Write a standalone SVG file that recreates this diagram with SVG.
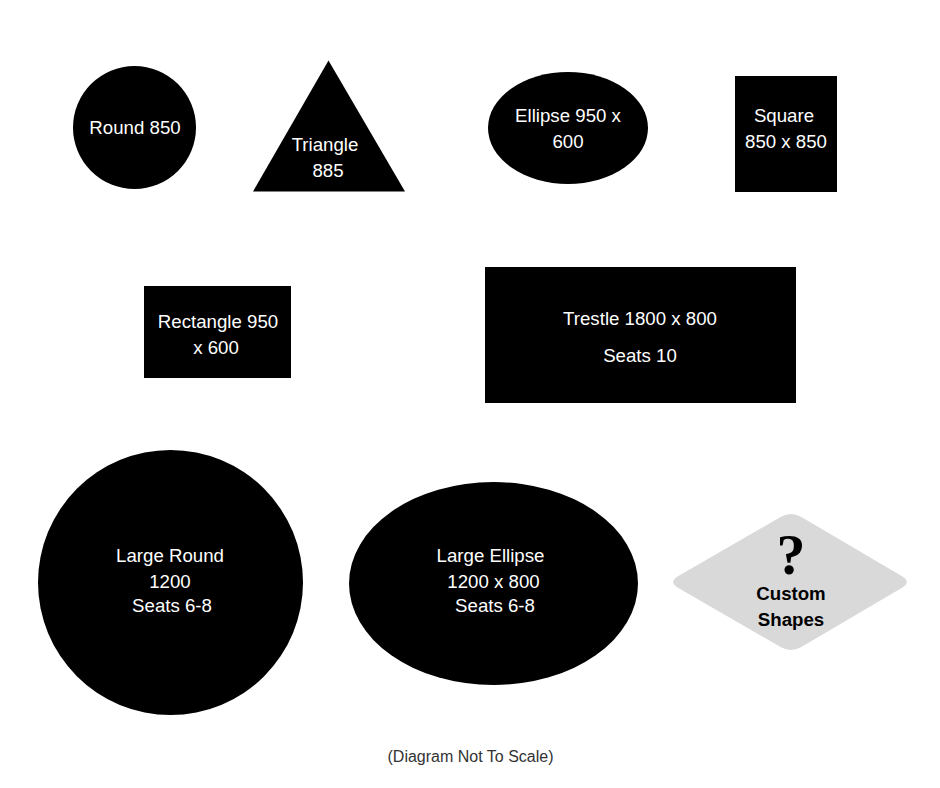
<svg xmlns="http://www.w3.org/2000/svg" width="940" height="788" viewBox="0 0 940 788">
<style>
.s{fill:#000}
.t{fill:#fff;font-family:"Liberation Sans",Arial,sans-serif;font-size:18.67px;text-anchor:middle}
.b{fill:#000;font-family:"Liberation Sans",Arial,sans-serif;font-size:18.67px;font-weight:bold;text-anchor:middle}
.q{fill:#000;font-family:"Liberation Serif","Times New Roman",serif;font-size:58px;font-weight:bold;text-anchor:middle}
.f{fill:#333;font-family:"Liberation Sans",Arial,sans-serif;font-size:16px;text-anchor:middle}
</style>
<rect width="940" height="788" fill="#fff"/>
<g id="round850">
<circle class="s" cx="134.5" cy="127.5" r="61.5"/>
<text class="t" x="135" y="133.5">Round 850</text>
</g>
<g id="triangle885">
<polygon class="s" points="328.5,60.5 405,191.5 253,191.5"/>
<text class="t" x="325" y="150.5">Triangle</text>
<text class="t" x="328" y="177">885</text>
</g>
<g id="ellipse950">
<ellipse class="s" cx="568" cy="128" rx="80" ry="56"/>
<text class="t" x="568" y="122">Ellipse 950 x</text>
<text class="t" x="568" y="148">600</text>
</g>
<g id="square850">
<rect class="s" x="735" y="76" width="102" height="116"/>
<text class="t" x="784" y="122">Square</text>
<text class="t" x="786" y="148">850 x 850</text>
</g>
<g id="rectangle950">
<rect class="s" x="144" y="286" width="147" height="92"/>
<text class="t" x="218" y="328">Rectangle 950</text>
<text class="t" x="216" y="354">x 600</text>
</g>
<g id="trestle">
<rect class="s" x="485" y="267" width="311" height="136"/>
<text class="t" x="640" y="325">Trestle 1800 x 800</text>
<text class="t" x="640" y="362">Seats 10</text>
</g>
<g id="largeRound">
<circle class="s" cx="170.5" cy="582.5" r="132.5"/>
<text class="t" x="170" y="562">Large Round</text>
<text class="t" x="170" y="588">1200</text>
<text class="t" x="172" y="612">Seats 6-8</text>
</g>
<g id="largeEllipse">
<ellipse class="s" cx="493.5" cy="583.5" rx="144.5" ry="101.5"/>
<text class="t" x="490.5" y="562">Large Ellipse</text>
<text class="t" x="493.5" y="588">1200 x 800</text>
<text class="t" x="495" y="612">Seats 6-8</text>
</g>
<g id="customShapes">
<path d="M780.6,517 Q791,511 801.4,517 L901.6,576 Q912,582 901.6,588 L801.4,647 Q791,653 780.6,647 L678.4,588 Q668,582 678.4,576 Z" fill="#d9d9d9"/>
<text class="q" x="791" y="574">?</text>
<text class="b" x="791" y="600">Custom</text>
<text class="b" x="791" y="626">Shapes</text>
</g>
<g id="connectors"></g>
<text class="f" x="470.5" y="762">(Diagram Not To Scale)</text>
</svg>
